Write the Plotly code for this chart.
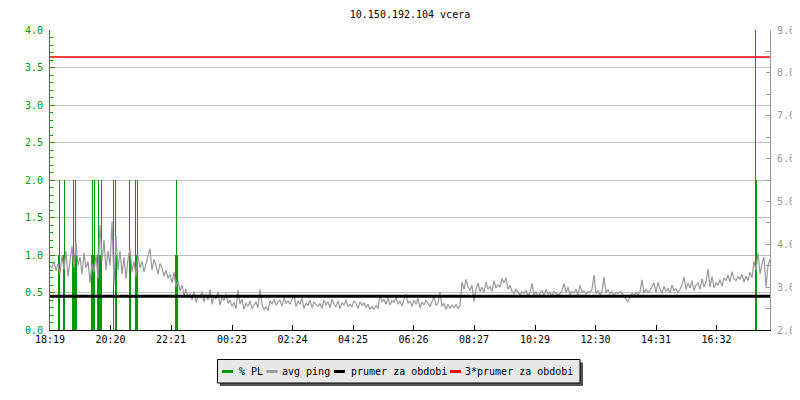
"""
Ping / packet-loss chart for one host, previous day.
"""

import plotly.graph_objects as go

GREEN = "#009900"
GREY = "#999999"
GRID = "#c0c0c0"
FONT = "DejaVu Sans Mono"

title_text = "10.150.192.104 vcera"
start_label = "18:19"
tick_labels = ["18:19", "20:20", "22:21", "00:23", "02:24", "04:25",
               "06:26", "08:27", "10:29", "12:30", "14:31", "16:32"]

# % PL impulses: minutes after start, loss value
pl_minutes = [16, 18, 26, 28, 44, 46, 48, 50, 52, 82, 84, 86, 88, 94, 96, 98,
              100, 102, 126, 130, 132, 158, 160, 170, 172, 174, 250, 252, 254,
              1410, 1412]
pl_values = [1.0, 2.0, 1.0, 2.0, 1.0, 2.0, 1.0, 2.0, 1.0, 1.0, 2.0, 1.0, 2.0,
             1.0, 2.0, 1.0, 1.0, 2.0, 2.0, 2.0, 1.0, 2.0, 1.0, 2.0, 1.0, 2.0,
             1.0, 2.0, 1.0, 4.0, 2.0]

# avg ping (ms), one sample every 4 minutes
ping_step = 4
ping_ms = [
    3.50, 3.45, 3.60, 3.38, 3.55, 3.30, 3.75, 3.40, 3.85, 3.25, 3.60, 3.95, 3.45, 4.05, 3.50,
    3.70, 3.30, 3.80, 3.45, 3.60, 3.10, 3.55, 3.35, 3.75, 3.20, 4.45, 3.60, 4.10, 3.40, 3.85,
    3.50, 4.53, 3.05, 4.20, 3.40, 3.85, 3.30, 3.70, 3.20, 3.65, 3.90, 3.35, 3.60, 3.25, 3.75,
    3.45, 3.60, 3.35, 3.55, 3.70, 3.90, 3.40, 3.65, 3.50, 3.30, 3.55, 3.45, 3.25, 3.40, 3.20,
    3.30, 3.10, 3.35, 3.00, 3.15, 2.90, 3.05, 2.80, 2.95, 2.75, 2.85, 2.70, 2.90, 2.65, 2.80,
    2.75, 2.90, 2.65, 2.85, 2.70, 2.95, 2.60, 2.80, 2.72, 2.88, 2.58, 2.78, 2.68, 2.85, 2.62,
    2.70, 2.55, 2.65, 2.50, 2.93, 2.60, 2.72, 2.48, 2.63, 2.55, 2.68, 2.50, 2.58, 2.66, 2.52,
    2.95, 2.60, 2.47, 2.55, 2.45, 2.68, 2.60, 2.72, 2.58, 2.65, 2.70, 2.55, 2.75, 2.62, 2.68,
    2.60, 2.70, 2.82, 2.55, 2.68, 2.60, 2.74, 2.50, 2.63, 2.57, 2.70, 2.52, 2.65, 2.60, 2.55,
    2.62, 2.50, 2.70, 2.58, 2.66, 2.52, 2.72, 2.60, 2.55, 2.68, 2.50, 2.64, 2.58, 2.70, 2.55,
    2.60, 2.55, 2.68, 2.62, 2.50, 2.66, 2.58, 2.63, 2.52, 2.60, 2.48, 2.55, 2.47, 2.58, 2.50,
    2.82, 2.65, 2.72, 2.60, 2.75, 2.58, 2.70, 2.64, 2.76, 2.60, 2.68, 2.56, 2.72, 2.84, 2.62,
    2.68, 2.55, 2.70, 2.60, 2.74, 2.52, 2.65, 2.58, 2.70, 2.62, 2.55, 2.66, 2.80, 2.57, 2.63,
    2.89, 2.55, 2.62, 2.48, 2.60, 2.50, 2.58, 2.52, 2.60, 2.50, 2.56, 3.12, 2.95, 3.18, 3.00,
    2.92, 3.05, 2.66, 2.95, 3.10, 2.90, 3.00, 2.88, 3.12, 2.95, 3.02, 2.90, 3.15, 2.98, 3.05,
    3.00, 3.20, 3.10, 3.22, 2.95, 3.05, 2.90, 2.85, 2.95, 2.88, 2.82, 2.90, 2.85, 2.93, 2.80,
    2.88, 3.09, 2.82, 2.90, 2.78, 2.86, 2.92, 2.80, 2.95, 2.84, 2.88, 2.78, 2.90, 2.85, 2.82,
    2.85, 2.92, 3.08, 2.88, 3.00, 2.82, 2.90, 2.86, 2.95, 2.80, 3.05, 2.88, 2.92, 2.84, 2.90,
    2.88, 2.95, 3.28, 2.85, 2.92, 2.82, 2.90, 3.24, 2.86, 2.95, 2.84, 2.90, 2.80, 2.88, 2.85,
    2.90, 2.85, 2.80, 2.72, 2.65, 2.78, 2.85, 2.80, 2.88, 2.82, 2.90, 3.17, 2.86, 2.95, 2.88,
    2.92, 3.00, 3.10, 2.88, 3.12, 2.95, 2.85, 3.02, 2.90, 2.98, 2.86, 3.05, 2.92, 2.96, 2.88,
    2.95, 3.05, 3.24, 2.95, 3.10, 2.98, 3.15, 2.92, 3.05, 3.10, 2.95, 3.20, 3.00, 3.12, 3.42,
    3.00, 3.25, 2.98, 3.10, 3.05, 3.18, 3.02, 3.22, 3.15, 3.28, 3.12, 3.36, 3.20, 3.15, 3.25,
    3.18, 3.30, 3.12, 3.26, 3.15, 3.35, 3.22, 3.60, 3.40, 3.80, 3.30, 3.55, 3.70, 3.00, 3.50,
    3.65,
]
ping_mean = 2.79  # "prumer za obdobi"


def _minutes_after(label, start):
    h, m = map(int, label.split(":"))
    sh, sm = map(int, start.split(":"))
    return (h * 60 + m - (sh * 60 + sm)) % 1440


tick_vals = [_minutes_after(t, start_label) for t in tick_labels]
ping_x = [i * ping_step for i in range(len(ping_ms))]
span = [0, 1440]

# impulses as vertical 1px strokes, centred in their 2-minute slot
imp_x, imp_y = [], []
for m, v in zip(pl_minutes, pl_values):
    imp_x += [m + 1, m + 1, None]
    imp_y += [0, v, None]

fig = go.Figure()
fig.add_trace(go.Scatter(
    x=imp_x, y=imp_y, mode="lines", line=dict(color=GREEN, width=1),
    name="% PL", yaxis="y",
))
fig.add_trace(go.Scatter(
    x=ping_x, y=ping_ms, mode="lines", line=dict(color=GREY, width=1.2),
    name="avg ping", yaxis="y2",
))
fig.add_trace(go.Scatter(
    x=span, y=[ping_mean] * 2, mode="lines", line=dict(color="black", width=3),
    name="prumer za obdobi", yaxis="y2",
))
fig.add_trace(go.Scatter(
    x=span, y=[3 * ping_mean] * 2, mode="lines", line=dict(color="red", width=1.5),
    name="3*prumer za obdobi", yaxis="y2",
))


# page pixels -> paper coords (page has an 8px body margin; plot area 50..770 x 30..330)
def px(x):
    return (x - 50) / 720


def py(y):
    return (330 - y) / 300


shapes = [
    dict(type="rect", xref="paper", yref="paper", x0=px(220), x1=px(583),
         y0=py(386), y1=py(362.5), fillcolor="#555555", line=dict(width=0)),
    dict(type="rect", xref="paper", yref="paper", x0=px(217.5), x1=px(580),
         y0=py(383), y1=py(359.5), fillcolor="#e8e8e8",
         line=dict(color="black", width=1)),
]
legend_items = [
    ("% PL", GREEN, 222, 236.5),
    ("avg ping", GREY, 266.5, 280),
    ("prumer za obdobi", "black", 334, 348.5),
    ("3*prumer za obdobi", "red", 450, 463),
]
annotations = []
for text, color, x_line, x_text in legend_items:
    shapes.append(dict(type="line", xref="paper", yref="paper",
                       x0=px(x_line), x1=px(x_line + 11), y0=py(371.5), y1=py(371.5),
                       line=dict(color=color, width=3)))
    annotations.append(dict(text=text, xref="paper", yref="paper",
                            x=px(x_text), y=py(371), xanchor="left", yanchor="middle",
                            showarrow=False, font=dict(family=FONT, size=10, color="black")))

fig.update_layout(
    width=792, height=392,
    margin=dict(l=42, r=30, t=22, b=70, autoexpand=False),
    paper_bgcolor="white", plot_bgcolor="white",
    font=dict(family=FONT, size=10, color="black"),
    title=dict(text=title_text, x=0.5, xref="paper", y=1 - 6 / 392,
               yref="container", yanchor="middle",
               font=dict(family=FONT, size=10, color="black")),
    showlegend=False,
    shapes=shapes,
    annotations=annotations,
    xaxis=dict(
        range=span, tickvals=tick_vals, ticktext=tick_labels,
        showgrid=False, zeroline=False,
        showline=True, linecolor="black", linewidth=1,
        ticks="inside", ticklen=5, tickcolor="black",
        tickfont=dict(family=FONT, size=10, color="black"),
    ),
    yaxis=dict(
        range=[0, 4], dtick=0.5, tickformat=".1f",
        showgrid=True, gridcolor=GRID, gridwidth=1, zeroline=False,
        showline=True, linecolor=GREEN, linewidth=1,
        ticks="inside", ticklen=5, tickcolor=GREEN,
        minor=dict(dtick=0.1, ticks="inside", ticklen=3, tickcolor=GREEN, showgrid=False),
        tickfont=dict(family=FONT, size=10, color=GREEN),
        ticklabelstandoff=4,
    ),
    yaxis2=dict(
        range=[2, 9], dtick=1, tickformat=".1f", overlaying="y", side="right",
        showgrid=False, zeroline=False,
        showline=True, linecolor=GREY, linewidth=1,
        ticks="inside", ticklen=4, tickcolor=GREY,
        minor=dict(dtick=0.5, ticks="inside", ticklen=4, tickcolor=GREY, showgrid=False),
        tickfont=dict(family=FONT, size=10, color=GREY),
        ticklabelstandoff=4,
    ),
)

fig.write_html("out.html")
